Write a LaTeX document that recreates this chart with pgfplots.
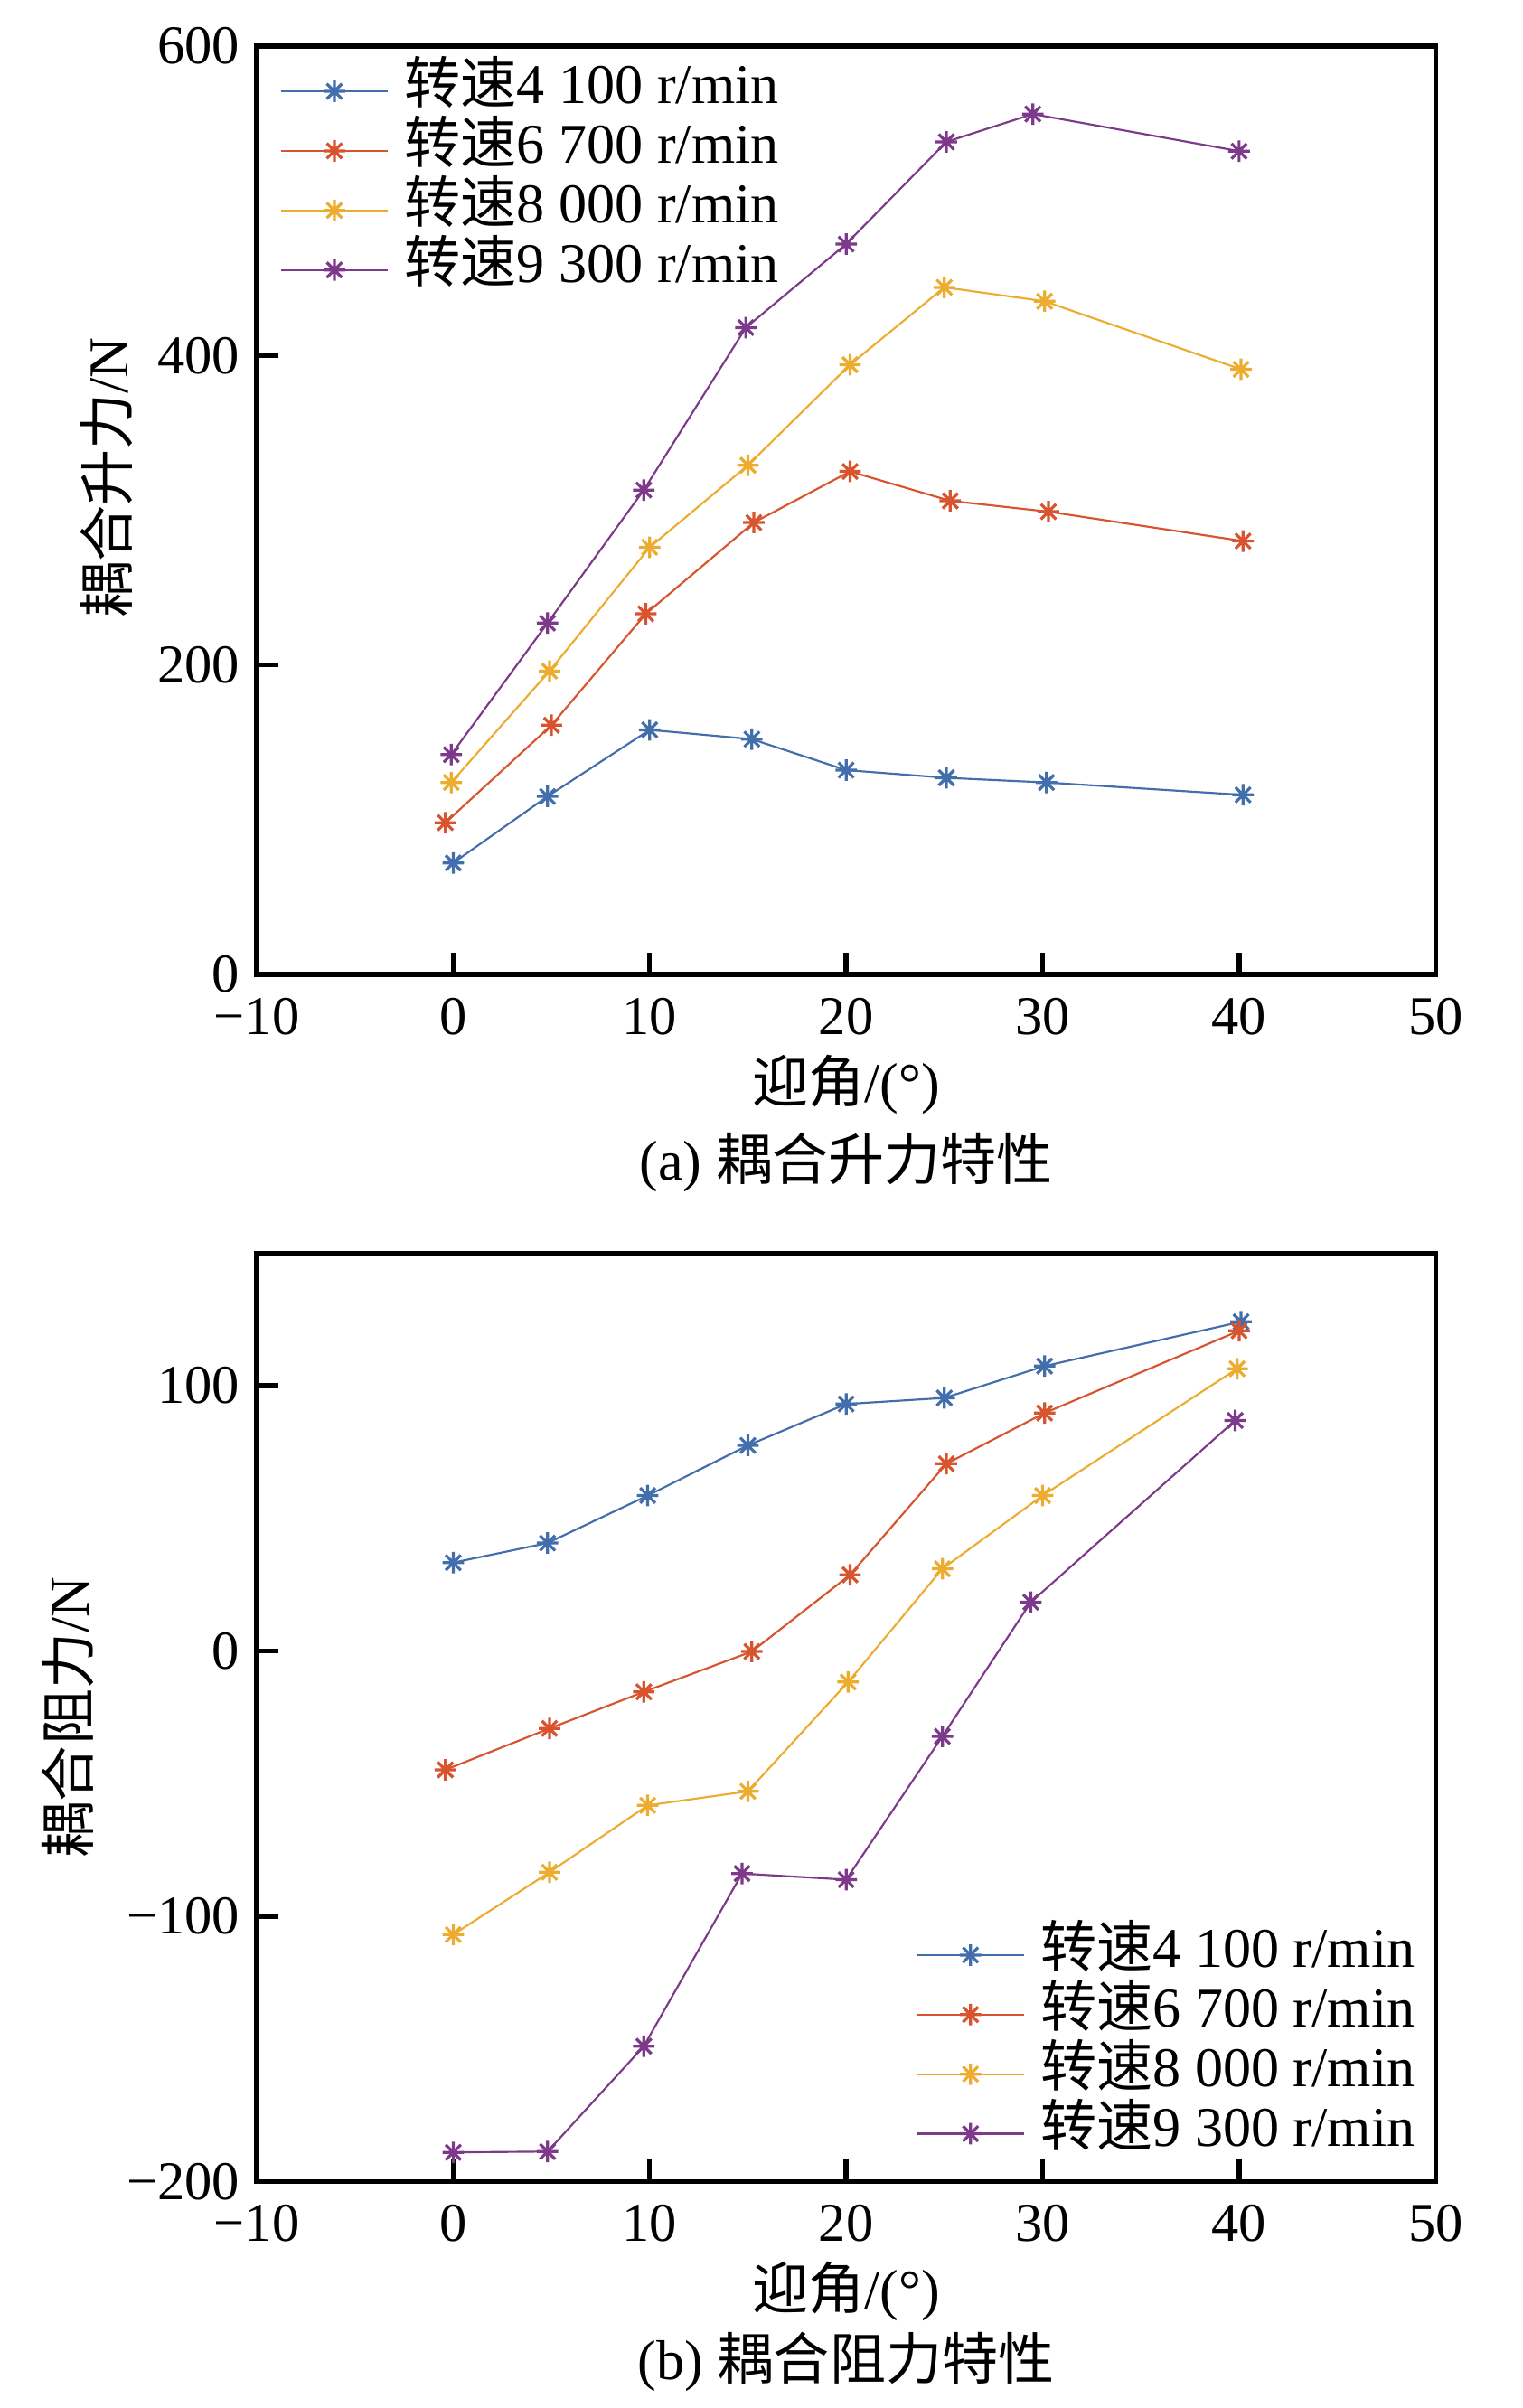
\documentclass[border=0pt]{standalone}
\usepackage{fontspec}
\setmainfont{Liberation Serif}
\newfontfamily\cjk{Noto Sans CJK SC}
\usepackage{pgfplots}
\pgfplotsset{compat=1.18}
\definecolor{c1}{RGB}{66,110,172}
\definecolor{c2}{RGB}{216,84,46}
\definecolor{c3}{RGB}{236,172,48}
\definecolor{c4}{RGB}{126,58,138}
\pgfdeclareplotmark{mstar}{%
  \pgfpathmoveto{\pgfqpoint{0pt}{\pgfplotmarksize}}\pgfpathlineto{\pgfqpoint{0pt}{-\pgfplotmarksize}}%
  \pgfpathmoveto{\pgfqpoint{\pgfplotmarksize}{0pt}}\pgfpathlineto{\pgfqpoint{-\pgfplotmarksize}{0pt}}%
  \pgfpathmoveto{\pgfqpoint{0.707\pgfplotmarksize}{0.707\pgfplotmarksize}}\pgfpathlineto{\pgfqpoint{-0.707\pgfplotmarksize}{-0.707\pgfplotmarksize}}%
  \pgfpathmoveto{\pgfqpoint{-0.707\pgfplotmarksize}{0.707\pgfplotmarksize}}\pgfpathlineto{\pgfqpoint{0.707\pgfplotmarksize}{-0.707\pgfplotmarksize}}%
  \pgfusepathqstroke}
\pgfplotsset{
  common/.style={
    scale only axis, width=241.5pt, height=190.2pt,
    clip mode=individual,
    xmin=-10, xmax=50,
    xtick={-10,0,10,20,30,40,50},
    xticklabels={−10,0,10,20,30,40,50},
    axis line style={line width=1pt},
    tick style={line width=1pt, black},
    major tick length=4.5pt,
    tick align=inside, xtick pos=bottom, ytick pos=left,
    tick label style={font=\fontsize{11.2}{13}\selectfont},
    xticklabel style={yshift=-1.3pt},
    /pgf/number format/assume math mode=true,
    label style={font=\fontsize{11.5}{13}\selectfont},
    xlabel={{\cjk 迎角}/(°)},
    xlabel style={at={(axis description cs:0.5,0)}, anchor=center, yshift=-22.5pt},
    legend cell align=left,
    legend style={draw=none, fill=none, font=\fontsize{11.5}{13}\selectfont, row sep=0pt,
      nodes={text height=8.6pt, text depth=3.6pt, inner ysep=0pt}},
    legend image code/.code={\draw[mark repeat=2,mark phase=2] plot coordinates {(0pt,0pt) (11pt,0pt) (22pt,0pt)};},
    every axis plot/.append style={line width=0.4pt, mark=mstar, mark size=2.2pt, mark options={line width=0.6pt}},
  }
}
\begin{document}
\begin{tikzpicture}
\path[use as bounding box] (0pt,0pt) rectangle (312pt,-493.3pt);
\begin{axis}[common,
  at={(52.6pt,-199.6pt)}, anchor=south west,
  ymin=0, ymax=600, ytick={0,200,400,600},
  ylabel={{\cjk 耦合升力}/N},
  ylabel style={at={(axis description cs:-0.127,0.535)}, anchor=center},
  legend style={at={(axis description cs:0,1)}, anchor=north west, xshift=1.5pt, yshift=-1pt,
    /tikz/every odd column/.append style={inner xsep=0pt}, column sep=1.2pt},
]
\addplot[c1] coordinates {(0,72)(4.8,115)(10,158)(15.2,152)(20,132)(25.1,127)(30.2,124)(40.2,116)};
\addlegendentry{{\cjk 转速}4 100 r/min}
\addplot[c2] coordinates {(-0.4,98)(5,161)(9.8,233)(15.3,292)(20.2,325)(25.3,306)(30.3,299)(40.2,280)};
\addlegendentry{{\cjk 转速}6 700 r/min}
\addplot[c3] coordinates {(-0.1,124)(4.9,196)(10,276)(15,329)(20.2,394)(25,444)(30.1,435)(40.1,391)};
\addlegendentry{{\cjk 转速}8 000 r/min}
\addplot[c4] coordinates {(-0.1,142)(4.8,227)(9.7,313)(14.9,418)(20,472)(25.1,538)(29.5,556)(40,532)};
\addlegendentry{{\cjk 转速}9 300 r/min}
\node[font=\fontsize{11.5}{13}\selectfont] at (axis description cs:0.5,0) [yshift=-38.5pt] {(a) {\cjk 耦合升力特性}};
\end{axis}
\begin{axis}[common,
  at={(52.6pt,-446.9pt)}, anchor=south west,
  ymin=-200, ymax=150, ytick={-200,-100,0,100},
  yticklabels={−200,−100,0,100},
  ylabel={{\cjk 耦合阻力}/N},
  ylabel style={at={(axis description cs:-0.16,0.5)}, anchor=center},
  legend style={at={(axis description cs:1,0)}, anchor=south east, xshift=1pt, yshift=1.5pt,
    /tikz/every odd column/.append style={inner xsep=0pt}, column sep=1.2pt},
]
\addplot[c1] coordinates {(0,33.3)(4.8,40.7)(9.9,58.6)(15,77.5)(20,93.1)(25,95.4)(30.1,107.4)(40.1,124.1)};
\addlegendentry{{\cjk 转速}4 100 r/min}
\addplot[c2] coordinates {(-0.4,-44.8)(4.9,-29.2)(9.7,-15.4)(15.2,-0.2)(20.2,28.7)(25.1,70.6)(30.1,89.7)(40,120.7)};
\addlegendentry{{\cjk 转速}6 700 r/min}
\addplot[c3] coordinates {(0,-106.9)(4.9,-83.4)(9.9,-58.2)(15,-52.9)(20.1,-11.7)(24.9,31)(30,58.6)(39.9,106.4)};
\addlegendentry{{\cjk 转速}8 000 r/min}
\addplot[c4] coordinates {(0,-189)(4.8,-188.7)(9.7,-149)(14.7,-83.9)(20,-86.2)(24.9,-32.2)(29.4,18.4)(39.8,86.9)};
\addlegendentry{{\cjk 转速}9 300 r/min}
\node[font=\fontsize{11.5}{13}\selectfont] at (axis description cs:0.5,0) [yshift=-37pt] {(b) {\cjk 耦合阻力特性}};
\end{axis}
\end{tikzpicture}
\end{document}
